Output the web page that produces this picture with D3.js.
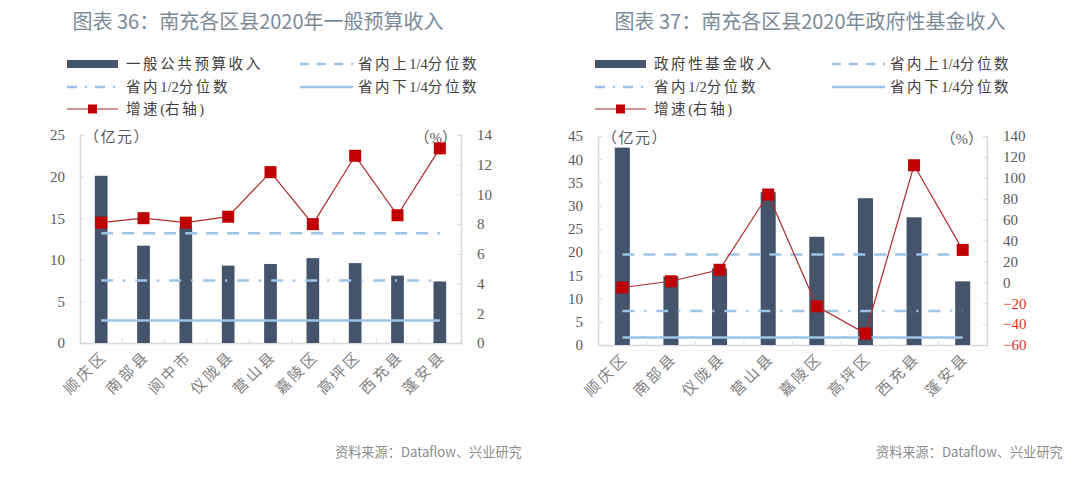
<!DOCTYPE html>
<html><head><meta charset="utf-8">
<script src="https://cdn.jsdelivr.net/npm/d3@7"></script>
<style>html,body{margin:0;padding:0;background:#fff;}svg{display:block;}</style>
</head><body>
<svg id="c" width="1080" height="479"></svg>
<script>
// ---- Data ----
const titles = ["图表 36：南充各区县2020年一般预算收入", "图表 37：南充各区县2020年政府性基金收入"];
const barNames = ["一般公共预算收入", "政府性基金收入"];
const cats1 = ["顺庆区","南部县","阆中市","仪陇县","营山县","嘉陵区","高坪区","西充县","蓬安县"];
const rev1 = [20.1, 11.7, 13.9, 9.3, 9.5, 10.2, 9.6, 8.1, 7.4];
const growth1 = [8.1, 8.4, 8.1, 8.5, 11.5, 8.0, 12.6, 8.6, 13.1];
const quart1 = [13.2, 7.5, 2.7]; // upper quartile, median, lower quartile
const leftTicks1 = [0,5,10,15,20,25];
const rightTicks1 = [0,2,4,6,8,10,12,14];

const cats2 = ["顺庆区","南部县","仪陇县","营山县","嘉陵区","高坪区","西充县","蓬安县"];
const rev2 = [42.5, 14.8, 16.5, 32.9, 23.3, 31.6, 27.5, 13.7];
const growth2 = [-5, 1, 12, 84, -23, -49, 112, 31];
const quart2 = [19.5, 7.3, 1.6];
const leftTicks2 = [0,5,10,15,20,25,30,35,40,45];
const rightTicks2 = [-60,-40,-20,0,20,40,60,80,100,120,140];

const legendLabels = ["省内上1/4分位数","省内1/2分位数","省内下1/4分位数","增速(右轴)"];
const source = "资料来源：Dataflow、兴业研究";

// ---- Styles ----
const BAR = "#44546a", QC = "#9dc3e6", RED = "#c00000", LINE = "#b0292b";
const AX = "#d9d9d9", TXT = "#595959";
const serif = "'Liberation Serif','Noto Sans CJK SC',serif";
const sans = "'Noto Sans CJK SC','Noto Sans',sans-serif";

const svg = d3.select("#c");

// legend text: CJK characters spaced out, digits/punctuation tight
function spacedText(sel, str) {
  const parts = str.match(/[0-9\/()]+|[^0-9\/()]+/g);
  parts.forEach(p => {
    const latin = /^[0-9\/()]+$/.test(p);
    sel.append("tspan").attr("letter-spacing", latin ? 0 : 2.6).text(p);
  });
}

function drawChart(o) {
  const g = svg.append("g");
  // title
  g.append("text").attr("x", o.titleX).attr("y", 29).attr("text-anchor","middle")
    .attr("font-family", sans).attr("font-size", 20).attr("fill", "#7b8a99").text(o.title);

  // legend
  const lg = g.append("g").attr("font-family", serif).attr("font-size", 14.5).attr("fill", "#404040");
  const lx = o.legX, lx2 = o.legX2;
  const r1 = 64, r2 = 87, r3 = 109;
  lg.append("rect").attr("x", lx).attr("y", r1-4).attr("width", 51).attr("height", 8).attr("fill", BAR);
  spacedText(lg.append("text").attr("x", lx+59).attr("y", r1+5), o.barName);
  lg.append("line").attr("x1", lx2).attr("x2", lx2+53).attr("y1", r1).attr("y2", r1)
    .attr("stroke", QC).attr("stroke-width", 2.5).attr("stroke-dasharray", "9,8");
  spacedText(lg.append("text").attr("x", lx2+58).attr("y", r1+5), legendLabels[0]);
  lg.append("line").attr("x1", lx).attr("x2", lx+51).attr("y1", r2).attr("y2", r2)
    .attr("stroke", QC).attr("stroke-width", 2.5).attr("stroke-dasharray", "10,8,2,8");
  spacedText(lg.append("text").attr("x", lx+59).attr("y", r2+5), legendLabels[1]);
  lg.append("line").attr("x1", lx2).attr("x2", lx2+53).attr("y1", r2).attr("y2", r2)
    .attr("stroke", QC).attr("stroke-width", 2.5);
  spacedText(lg.append("text").attr("x", lx2+58).attr("y", r2+5), legendLabels[2]);
  lg.append("line").attr("x1", lx).attr("x2", lx+51).attr("y1", r3).attr("y2", r3)
    .attr("stroke", LINE).attr("stroke-width", 1.2);
  lg.append("rect").attr("x", lx+21).attr("y", r3-4.5).attr("width", 9).attr("height", 9).attr("fill", RED);
  spacedText(lg.append("text").attr("x", lx+59).attr("y", r3+5), legendLabels[3]);

  // scales
  const x = d3.scaleBand().domain(o.cats).range([o.x0, o.x1]).paddingInner(o.pad).paddingOuter(o.pad/2);
  const y = d3.scaleLinear().domain(d3.extent(o.lt)).range([o.yb, o.yt]);
  const y2 = d3.scaleLinear().domain(d3.extent(o.rt)).range([o.yb, o.yt]);

  // axes
  const la = g.append("g").attr("transform", `translate(${o.x0},0)`)
    .call(d3.axisLeft(y).tickValues(o.lt).tickSize(-4).tickPadding(15));
  const ra = g.append("g").attr("transform", `translate(${o.x1},0)`)
    .call(d3.axisRight(y2).tickValues(o.rt).tickSize(-4).tickPadding(16));
  const ba = g.append("g").attr("transform", `translate(0,${o.yb})`)
    .call(d3.axisBottom(x).tickSize(0).tickFormat(""));
  [la, ra, ba].forEach(a => {
    a.select(".domain").attr("stroke", AX).attr("stroke-width", 1.5);
    a.selectAll(".tick line").attr("stroke", AX);
    a.selectAll(".tick text").attr("font-family", serif).attr("font-size", 15).attr("fill", TXT);
  });
  ra.selectAll(".tick text").attr("fill", d => d < 0 ? "#d9302c" : TXT);
  // category boundary ticks on bottom axis
  g.append("g").selectAll("line").data(o.cats.slice(1)).join("line")
    .attr("x1", d => x(d) - x.step()*x.paddingInner()/2).attr("x2", d => x(d) - x.step()*x.paddingInner()/2)
    .attr("y1", o.yb).attr("y2", o.yb-4).attr("stroke", AX);

  // x labels
  g.append("g").selectAll("text").data(o.cats).join("text")
    .attr("transform", d => `translate(${x(d)+x.bandwidth()/2+7},${o.yb+14}) rotate(-45)`)
    .attr("text-anchor", "end").attr("font-family", sans).attr("font-size", 15).attr("fill", "#7f7f7f")
    .attr("letter-spacing", 3)
    .text(d => d);

  // unit labels
  g.append("text").attr("x", o.x0+4).attr("y", o.yt+7).attr("font-family", sans).attr("font-size", 15)
    .attr("letter-spacing", 1.5).attr("fill", TXT).text("（亿元）");
  g.append("text").attr("x", o.x1-4).attr("y", o.yt+8).attr("text-anchor","end").attr("font-family", serif)
    .attr("font-size", 15).attr("fill", TXT).text("（%）");

  // bars
  g.append("g").selectAll("rect").data(o.vals).join("rect")
    .attr("x", (d,i) => x(o.cats[i])).attr("width", x.bandwidth())
    .attr("y", d => y(d)).attr("height", d => y(0) - y(d)).attr("fill", BAR);

  // quartile lines
  const first = o.cats[0], last = o.cats[o.cats.length-1];
  const qx1 = x(first) + x.bandwidth()/2, qx2 = x(last) + x.bandwidth()/2;
  const dashes = ["12,9", "12,10,2,10", null];
  o.q.forEach((v, i) => {
    const l = g.append("line").attr("x1", qx1).attr("x2", qx2).attr("y1", y(v)).attr("y2", y(v))
      .attr("stroke", QC).attr("stroke-width", 2.5);
    if (dashes[i]) l.attr("stroke-dasharray", dashes[i]);
  });

  // growth line
  const line = d3.line().x((d,i) => x(o.cats[i]) + x.bandwidth()/2).y(d => y2(d));
  g.append("path").datum(o.growth).attr("d", line).attr("fill", "none").attr("stroke", LINE).attr("stroke-width", 1.2);
  g.append("g").selectAll("rect").data(o.growth).join("rect")
    .attr("x", (d,i) => x(o.cats[i]) + x.bandwidth()/2 - 6).attr("y", d => y2(d) - 6)
    .attr("width", 12).attr("height", 12).attr("fill", RED);

  // source
  g.append("text").attr("x", o.srcX).attr("y", 457).attr("font-family", sans).attr("font-size", 13.2)
    .attr("fill", "#8c8c8c").text(source);
}

drawChart({title: titles[0], titleX: 258, barName: barNames[0], legX: 67, legX2: 300,
  cats: cats1, vals: rev1, growth: growth1, q: quart1, lt: leftTicks1, rt: rightTicks1,
  x0: 80, x1: 461, yt: 135, yb: 343, pad: 0.7, srcX: 335});
drawChart({title: titles[1], titleX: 810, barName: barNames[1], legX: 595, legX2: 832,
  cats: cats2, vals: rev2, growth: growth2, q: quart2, lt: leftTicks2, rt: rightTicks2,
  x0: 598, x1: 987, yt: 136, yb: 345, pad: 0.69, srcX: 876});
</script>
</body></html>
